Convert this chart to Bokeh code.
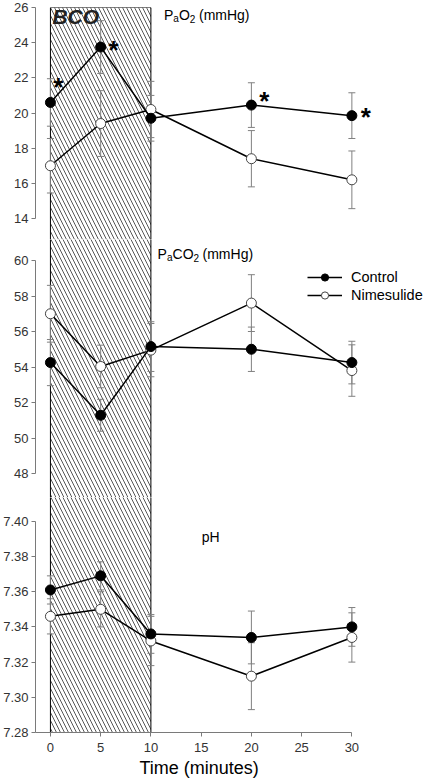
from bokeh.plotting import figure
from bokeh.models import (ColumnDataSource, Range1d, Whisker, TeeHead,
                          FixedTicker, Legend, LegendItem, Title, PrintfTickFormatter)
from bokeh.layouts import column
from bokeh.embed import file_html
from bokeh.resources import INLINE
from bokeh.core.properties import value

# ---------------- data ----------------
time = [0, 5, 10, 20, 30]
x_ticks = [0, 5, 10, 15, 20, 25, 30]
bco_start, bco_end = 0, 10

pao2_control = [20.6, 23.75, 19.7, 20.45, 19.85]
pao2_control_sem = [1.35, 1.5, 1.3, 1.27, 1.3]
pao2_nimes = [17.0, 19.4, 20.2, 17.4, 16.2]
pao2_nimes_sem = [1.55, 1.87, 1.6, 1.6, 1.64]
pao2_sig_times = [0, 5, 20, 30]

paco2_control = [54.25, 51.28, 55.15, 55.0, 54.25]
paco2_control_sem = [1.3, 0.9, 1.4, 1.25, 1.2]
paco2_nimes = [57.0, 54.03, 54.95, 57.6, 53.8]
paco2_nimes_sem = [1.6, 1.2, 1.5, 1.6, 1.45]

ph_control = [7.361, 7.369, 7.336, 7.334, 7.340]
ph_control_sem = [0.008, 0.008, 0.011, 0.015, 0.011]
ph_nimes = [7.346, 7.350, 7.332, 7.312, 7.334]
ph_nimes_sem = [0.010, 0.010, 0.014, 0.019, 0.014]

pao2_ticks = [14, 16, 18, 20, 22, 24, 26]
paco2_ticks = [48, 50, 52, 54, 56, 58, 60]
ph_ticks = [7.28, 7.30, 7.32, 7.34, 7.36, 7.38, 7.40]

# ---------------- style ----------------
FONT = "Liberation Sans"
AXIS_GRAY = "#7a7a7a"
LABEL_GRAY = "#333333"
ERR_GRAY = "#808080"
FIG_W = 423
BORDER_LEFT = 33
PX_PER_MIN = 10.1
X0_PX = 15  # pixels from frame left (y axis) to time 0
x_start = -X0_PX / PX_PER_MIN
x_end = x_start + (FIG_W - BORDER_LEFT) / PX_PER_MIN
x_range = Range1d(x_start, x_end)


def make_range(lo, hi, top_px, panel_px, frame_px):
    upp = (hi - lo) / panel_px
    end = hi + top_px * upp
    return Range1d(end - frame_px * upp, end)


def make_fig(height, y_range, ticks, fmt, band_top=None, band_bottom=None,
             border_top=0, border_bottom=0, with_x=False):
    p = figure(width=FIG_W, height=height, x_range=x_range, y_range=y_range,
               output_backend="svg", toolbar_location=None,
               x_axis_location="below" if with_x else None,
               min_border_left=BORDER_LEFT, min_border_right=0,
               min_border_top=border_top, min_border_bottom=border_bottom)
    p.outline_line_color = None
    p.grid.visible = False
    ya = p.yaxis[0]
    ya.ticker = FixedTicker(ticks=ticks)
    ya.formatter = PrintfTickFormatter(format=fmt)
    ya.bounds = (ticks[0], ticks[-1])
    ya.axis_line_color = AXIS_GRAY
    ya.major_tick_line_color = AXIS_GRAY
    ya.major_tick_out = 4
    ya.major_tick_in = 0
    ya.minor_tick_line_color = None
    ya.major_label_text_font = FONT
    ya.major_label_text_font_size = "13px"
    ya.major_label_text_color = LABEL_GRAY
    ya.major_label_standoff = 3
    # BCO band (hatched), extending past the frame where it continues
    span = y_range.end - y_range.start
    top = band_top if band_top is not None else y_range.end + span
    bottom = band_bottom if band_bottom is not None else y_range.start - span
    p.quad(left=[bco_start], right=[bco_end], top=[top], bottom=[bottom],
           fill_color=None, line_color="black", line_width=1,
           hatch_pattern="\\", hatch_scale=8, hatch_weight=0.9,
           hatch_color="#444444", level="underlay")
    return p


def draw_series(p, y, sem, filled):
    src = ColumnDataSource(dict(x=time, y=y,
                                upper=[v + s for v, s in zip(y, sem)],
                                lower=[v - s for v, s in zip(y, sem)]))
    w = Whisker(source=src, base="x", upper="upper", lower="lower",
                line_color=ERR_GRAY, line_width=1, level="underlay",
                upper_head=TeeHead(size=7, line_color=ERR_GRAY, line_width=1),
                lower_head=TeeHead(size=7, line_color=ERR_GRAY, line_width=1))
    p.add_layout(w)
    ln = p.line("x", "y", source=src, line_color="black", line_width=1.5)
    if filled:
        mk = p.scatter("x", "y", source=src, size=10, fill_color="black", line_color="black")
    else:
        mk = p.scatter("x", "y", source=src, size=10, fill_color="white",
                       line_color="#444444", line_width=1)
    return ln, mk


def rich_label(p, x, y, parts):
    for txt, dx, dy, size in parts:
        p.text(x=[x], y=[y], text=[txt], x_offset=dx, y_offset=dy,
               text_font=value(FONT), text_font_size=f"{size}px", text_color="black",
               text_align="left", text_baseline="alphabetic")


# ---------------- panel 1: PaO2 ----------------
p1 = make_fig(239, make_range(14, 26, 0, 211, 232), pao2_ticks, "%d",
              band_top=pao2_ticks[-1], border_top=7)
draw_series(p1, pao2_nimes, pao2_nimes_sem, False)
draw_series(p1, pao2_control, pao2_control_sem, True)
star_y = [pao2_control[time.index(t)] for t in pao2_sig_times]
p1.text(x=pao2_sig_times, y=star_y, text=["*"] * len(star_y),
        x_offset=[8, 13, 13, 14], y_offset=[-15, 3, -4, 1],
        text_font=value(FONT), text_font_size="26px", text_font_style="bold",
        text_color="black", text_align="center", text_baseline="alphabetic")
p1.text(x=[0.2], y=[25.5], text=["BCO"], text_font=value(FONT), text_font_size="21px",
        text_font_style="bold italic", text_color="#222222", text_align="left",
        text_baseline="alphabetic")
rich_label(p1, 11.3, 25.6, [("P", 0, 0, 14), ("a", 9.4, 4, 10), ("O", 15.0, 0, 14),
                             ("2", 25.9, 4, 10), ("(mmHg)", 35.0, 0, 14)])

# ---------------- panel 2: PaCO2 ----------------
p2 = make_fig(258, make_range(48, 60, 21, 213, 258), paco2_ticks, "%d")
ln_n, mk_n = draw_series(p2, paco2_nimes, paco2_nimes_sem, False)
ln_c, mk_c = draw_series(p2, paco2_control, paco2_control_sem, True)
rich_label(p2, 10.66, 60.39, [("P", 0, 0, 14), ("a", 9.4, 4, 10), ("CO", 15.0, 0, 14),
                               ("2", 36.0, 4, 10), ("(mmHg)", 45.0, 0, 14)])
legend = Legend(items=[LegendItem(label="Control", renderers=[ln_c, mk_c]),
                       LegendItem(label="Nimesulide", renderers=[ln_n, mk_n])],
                location=(272, 193), orientation="vertical",
                glyph_width=35, glyph_height=18, label_height=18, label_standoff=9,
                spacing=0, padding=0, margin=0, border_line_color=None,
                background_fill_alpha=0, label_text_font=FONT,
                label_text_font_size="14.5px", label_text_color="black")
p2.add_layout(legend)

# ---------------- panel 3: pH ----------------
p3 = make_fig(281, make_range(7.28, 7.40, 24, 213, 237), ph_ticks, "%.2f",
              band_bottom=ph_ticks[0], border_bottom=44, with_x=True)
draw_series(p3, ph_nimes, ph_nimes_sem, False)
draw_series(p3, ph_control, ph_control_sem, True)
rich_label(p3, 15.05, 7.391, [("pH", 0, 0, 14)])
xa = p3.xaxis[0]
xa.ticker = FixedTicker(ticks=x_ticks)
xa.bounds = (x_start, x_ticks[-1])
xa.axis_line_color = AXIS_GRAY
xa.major_tick_line_color = AXIS_GRAY
xa.major_tick_out = 4
xa.major_tick_in = 0
xa.minor_tick_line_color = None
xa.major_label_text_font = FONT
xa.major_label_text_font_size = "13px"
xa.major_label_text_color = LABEL_GRAY
xa.major_label_standoff = 6
p3.add_layout(Title(text="Time (minutes)", align="left", offset=104, standoff=2,
                    text_font=FONT, text_font_size="18px", text_font_style="normal",
                    text_color="black"), "below")

layout = column(p1, p2, p3, spacing=0)
open("out.html", "w").write(file_html(layout, INLINE))
